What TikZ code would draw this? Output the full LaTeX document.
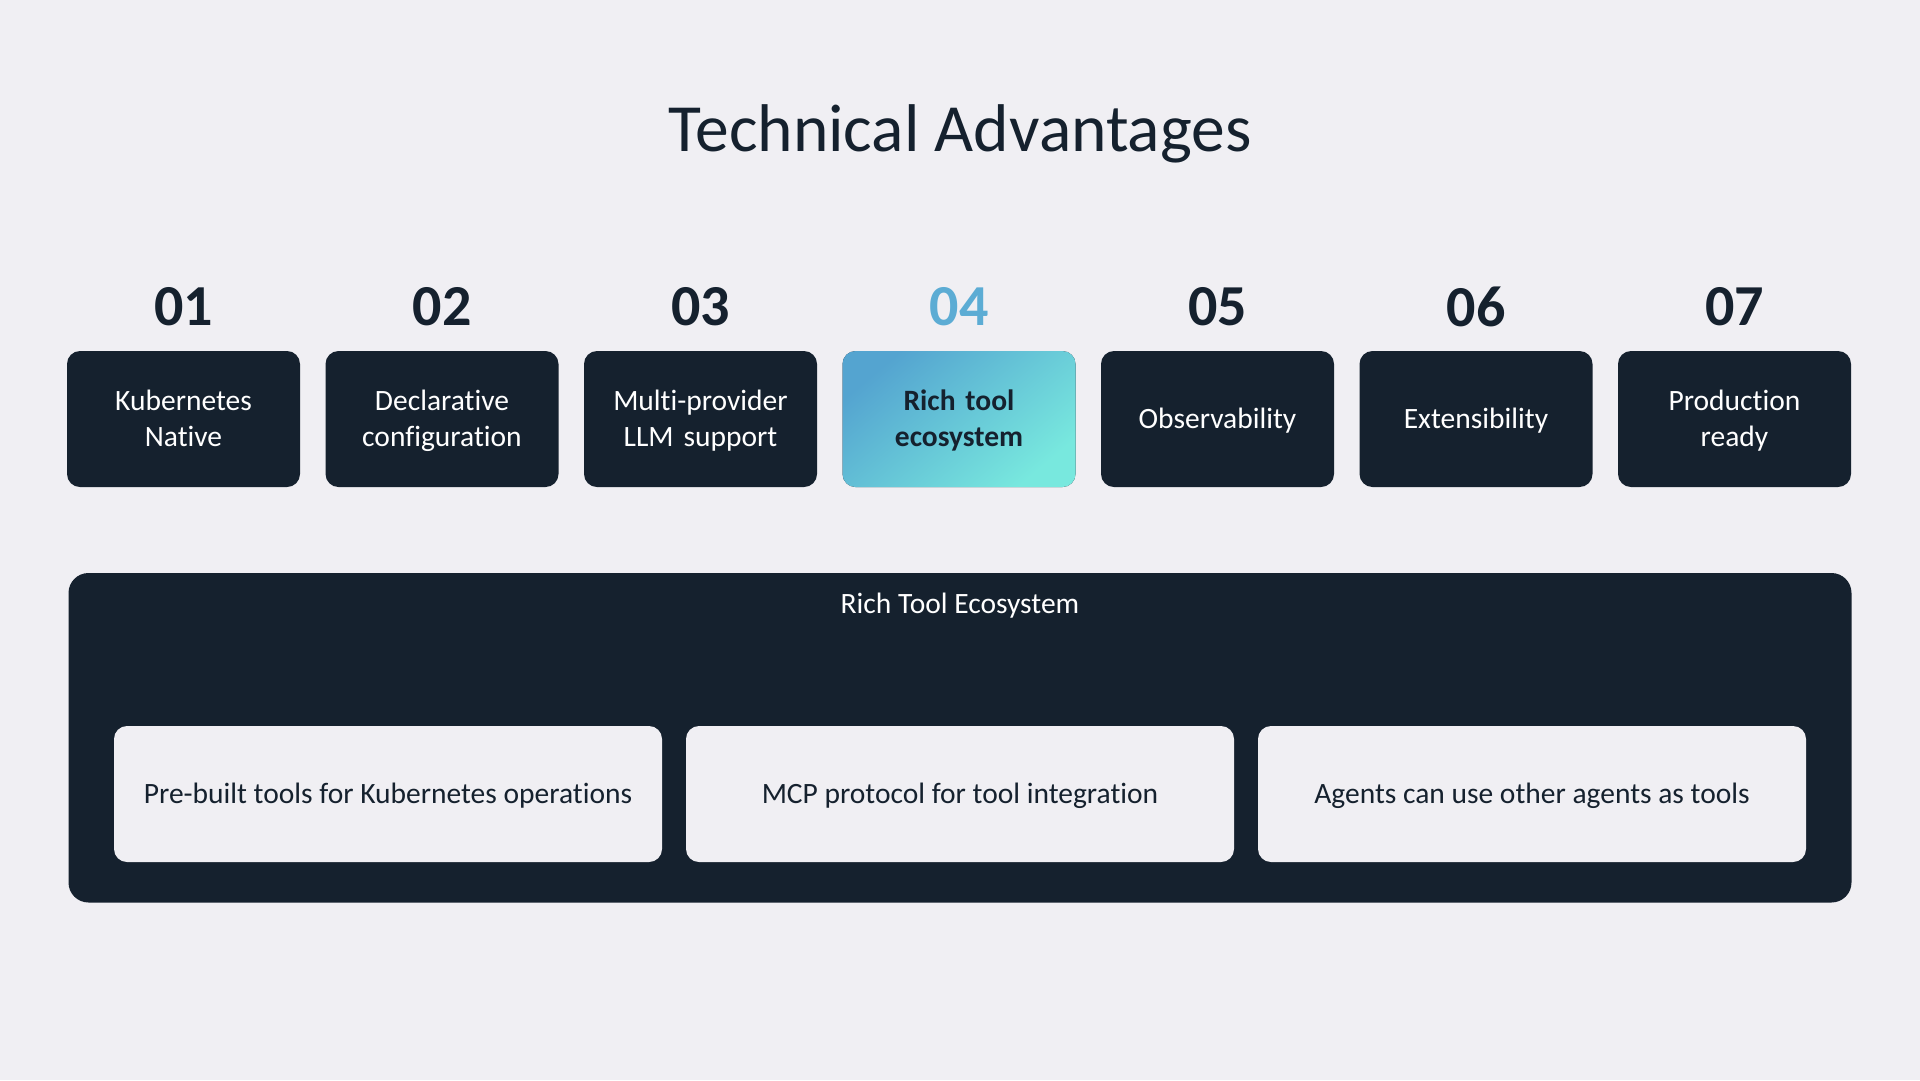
\documentclass[tikz,border=0pt]{standalone}
\usepackage{fontspec}
\setmainfont{Carlito}[RawFeature={-liga;-dlig;-clig}]
\usepackage{tikz}
\usetikzlibrary{positioning}
\usepackage{xcolor}
\definecolor{paper}{RGB}{240,239,243}
\definecolor{ink}{RGB}{21,33,46}
\definecolor{hlA}{RGB}{84,164,208}
\definecolor{hlB}{RGB}{120,232,222}
\definecolor{hlnum}{RGB}{92,172,212}
\newcommand{\tabstrut}{\rule[-8.3pt]{0pt}{36pt}}
\tikzset{
  headtxt/.style={ink,font=\fontsize{67.5}{72}\selectfont,anchor=base},
  tabnum/.style={ink,font=\fontsize{58}{62}\selectfont\bfseries},
  tabbox/.style={fill=ink,text=white,rounded corners=13pt,minimum width=233pt,
    minimum height=136pt,text width=225pt,align=center,inner sep=0pt,
    font=\fontsize{29.5}{36}\selectfont},
  hlbox/.style={top color=hlA,bottom color=hlB,shading angle=40,text=ink,
    font=\fontsize{29.5}{36}\selectfont\bfseries},
  panel/.style={fill=ink,rounded corners=20pt,minimum width=1783pt,
    minimum height=329.5pt,inner sep=0pt},
  paneltxt/.style={white,font=\fontsize{29.5}{34}\selectfont,anchor=base},
  toolcard/.style={fill=paper,text=ink,rounded corners=13pt,minimum width=548pt,
    minimum height=136pt,inner sep=0pt,font=\fontsize{29.5}{34}\selectfont},
}
\begin{document}
\begin{tikzpicture}[x=1pt,y=-1pt]
  \fill[paper] (0,0) rectangle (1920,1080);
  \useasboundingbox (0,0) rectangle (1920,1080);
  \node[headtxt] (head) at (960,151) {Technical Advantages};
  % row of advantages
  \foreach \i/\x/\lbl in {1/183.5/{Kubernetes\\Native},2/442/{Declarative\\configuration},
      3/700.5/{Multi-provider\\LLM support},5/1217.5/{Observability},
      6/1476/{Extensibility},7/1734.5/{Production\\ready}} {
    \node[tabbox] (tab\i) at (\x,419) {\tabstrut\lbl\tabstrut};
    \node[tabnum] (num\i) at (\x,307) {0\i};
  }
  \node[tabbox,hlbox] (tab4) at (959,419) {\tabstrut Rich tool\\ecosystem\tabstrut};
  \node[tabnum,hlnum] (num4) at (959,307) {04};
  % detail panel
  \node[panel] (panel) at (960,737.75) {};
  \node[paneltxt] (ptitle) at (960,613) {Rich Tool Ecosystem};
  \foreach \j/\x/\lbl in {1/388/{Pre-built tools for Kubernetes operations},
      2/960/{MCP protocol for tool integration},
      3/1532/{Agents can use other agents as tools}}
    \node[toolcard] (card\j) at (\x,794) {\tabstrut\lbl};
\end{tikzpicture}
\end{document}
